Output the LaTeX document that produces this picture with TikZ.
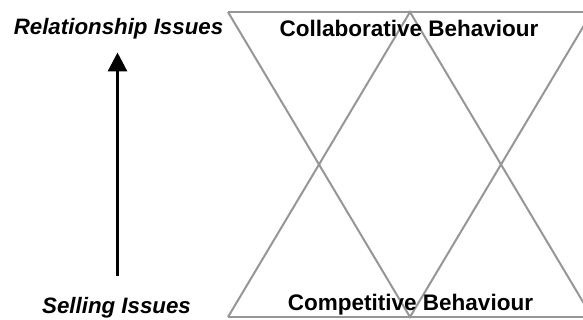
\documentclass[tikz,border=0pt]{standalone}
\usepackage{fontspec}
\setmainfont{Liberation Sans}
\usetikzlibrary{arrows.meta}
\definecolor{triline}{RGB}{150,150,150}
\begin{document}
\begin{tikzpicture}[x=1pt,y=-1pt,
  tri/.style={draw=triline,line width=2pt},
  axislabel/.style={font=\fontsize{22.3}{25}\selectfont\bfseries\itshape,anchor=base,inner sep=0pt},
  behlabel/.style={font=\fontsize{22.5}{25}\selectfont\bfseries,anchor=base,inner sep=0pt},
  axisarrow/.style={line width=3.2pt,-{Triangle[length=19pt,width=19pt]}}]
\useasboundingbox (0,0) rectangle (583,320);
\clip (0,0) rectangle (583,320);
% vertices
\coordinate (TL) at (228,12);
\coordinate (TM) at (410,12);
\coordinate (TR) at (592,12);
\coordinate (BL) at (228,317);
\coordinate (BM) at (410,317);
\coordinate (BR) at (592,317);
% lines
\draw[tri] (TL) -- (TR);
\draw[tri] (BL) -- (BR);
\draw[tri] (TL) -- (BM) -- (TR);
\draw[tri] (BL) -- (TM) -- (BR);
% labels
\node[behlabel] (collab) at (409,37) {Collaborative Behaviour};
\node[behlabel] (compet) at (410.5,310) {Competitive Behaviour};
\node[axislabel] (rel) at (118.5,35) {Relationship Issues};
\node[axislabel] (sell) at (116.5,313) {Selling Issues};
\coordinate (arrbot) at (117.5,276);
\coordinate (arrtop) at (117.5,52.5);
\draw[axisarrow] (arrbot) -- (arrtop);
\end{tikzpicture}
\end{document}
